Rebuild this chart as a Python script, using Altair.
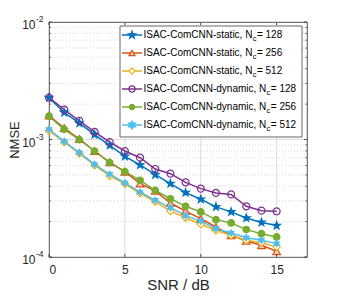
import math
import altair as alt
import pandas as pd

snr = list(range(16))
static_128 = [2.27e-3, 1.70e-3, 1.38e-3, 1.10e-3, 8.92e-4, 7.19e-4, 6.07e-4, 5.02e-4,
              4.21e-4, 3.53e-4, 3.10e-4, 2.67e-4, 2.42e-4, 2.15e-4, 1.97e-4, 1.85e-4]
static_256 = [1.60e-3, 1.25e-3, 1.01e-3, 7.98e-4, 6.39e-4, 5.32e-4, 4.21e-4, 3.65e-4,
              2.88e-4, 2.46e-4, 2.12e-4, 1.80e-4, 1.53e-4, 1.37e-4, 1.26e-4, 1.12e-4]
static_512 = [1.19e-3, 9.50e-4, 7.60e-4, 6.05e-4, 4.90e-4, 4.20e-4, 3.48e-4, 2.95e-4,
              2.46e-4, 2.16e-4, 1.90e-4, 1.68e-4, 1.53e-4, 1.39e-4, 1.32e-4, 1.22e-4]
dynamic_128 = [2.27e-3, 1.80e-3, 1.44e-3, 1.16e-3, 9.50e-4, 7.98e-4, 7.00e-4, 5.61e-4,
               5.12e-4, 4.32e-4, 3.82e-4, 3.51e-4, 3.41e-4, 2.70e-4, 2.48e-4, 2.45e-4]
dynamic_256 = [1.58e-3, 1.22e-3, 9.97e-4, 7.98e-4, 6.35e-4, 5.32e-4, 4.49e-4, 3.69e-4,
               3.13e-4, 2.70e-4, 2.42e-4, 2.08e-4, 1.95e-4, 1.71e-4, 1.58e-4, 1.48e-4]
dynamic_512 = [1.22e-3, 9.64e-4, 7.73e-4, 6.15e-4, 5.06e-4, 4.27e-4, 3.57e-4, 3.04e-4,
               2.63e-4, 2.25e-4, 2.02e-4, 1.74e-4, 1.60e-4, 1.46e-4, 1.39e-4, 1.30e-4]

series_names = ["static128", "static256", "static512", "dynamic128", "dynamic256", "dynamic512"]
series_values = [static_128, static_256, static_512, dynamic_128, dynamic_256, dynamic_512]
legend_prefix = ["ISAC-ComCNN-static, N", "ISAC-ComCNN-static, N", "ISAC-ComCNN-static, N",
                 "ISAC-ComCNN-dynamic, N", "ISAC-ComCNN-dynamic, N", "ISAC-ComCNN-dynamic, N"]
legend_sub = ["c"] * 6
legend_suffix = [" = 128", " = 256", " = 512", " = 128", " = 256", " = 512"]
colors = ["#0072BD", "#D95319", "#EDB120", "#7E2F8E", "#77AC30", "#4DBEEE"]

x_ticks = [0, 5, 10, 15]
decades = [1e-4, 1e-3, 1e-2]
exponents = ["-4", "-3", "-2"]
minor_vals = [m * 10.0 ** e for e in (-4, -3) for m in range(2, 10)]


def star_path(n, r_in):
    pts = []
    for k in range(2 * n):
        r = 1.0 if k % 2 == 0 else r_in
        a = -math.pi / 2 + k * math.pi / n
        pts.append((r * math.cos(a), r * math.sin(a)))
    return "M" + "L".join(f"{x:.3f},{y:.3f}" for x, y in pts) + "Z"


STAR = star_path(5, 0.40)
HEXA = star_path(6, 0.577)
shapes = [STAR, "triangle-up", "diamond", "circle", "circle", HEXA]
fills = [colors[0], "#f3c7b3", "white", "transparent", colors[4], colors[5]]
sizes = [64, 38, 38, 40, 28, 64]

W, H = 258, 235
FONT = "Liberation Sans"
AX = "#262626"

rows = []
for name, vals in zip(series_names, series_values):
    for s, v in zip(snr, vals):
        rows.append({"snr": s, "nmse": v, "series": name})
df = pd.DataFrame(rows)

xscale = alt.Scale(domain=[0, 17], nice=False, zero=False)
yscale = alt.Scale(type="log", domain=[1e-4, 1e-2], nice=False)
col_scale = alt.Scale(domain=series_names, range=colors)

# grid
vgrid = alt.Chart(pd.DataFrame({"snr": x_ticks[1:]})).mark_rule(
    color="#dcdcdc", strokeWidth=1).encode(
    x=alt.X("snr:Q", scale=xscale,
            axis=alt.Axis(values=x_ticks, ticks=False, domain=False, grid=False,
                          labelFontSize=12, labelFont=FONT, labelColor=AX, labelPadding=7,
                          title="SNR / dB", titleFontSize=15, titleFont=FONT,
                          titleFontWeight="normal", titleColor=AX, titlePadding=2)))
hgrid = alt.Chart(pd.DataFrame({"nmse": [1e-3]})).mark_rule(
    color="#dcdcdc", strokeWidth=1).encode(
    y=alt.Y("nmse:Q", scale=yscale,
            axis=alt.Axis(labels=False, ticks=False, domain=False, grid=False,
                          title="NMSE", titleFontSize=13, titleFont=FONT,
                          titleFontWeight="normal", titleColor=AX, titlePadding=28)))
mgrid = alt.Chart(pd.DataFrame({"nmse": minor_vals})).mark_rule(
    color="#c8c8c8", strokeWidth=0.7, strokeDash=[1, 2]).encode(
    y=alt.Y("nmse:Q", scale=yscale))

# inward ticks
xt_bot = alt.Chart(pd.DataFrame({"snr": x_ticks})).mark_rule(color=AX, strokeWidth=0.8).encode(
    x=alt.X("snr:Q", scale=xscale), y=alt.value(H), y2=alt.value(H - 3))
xt_top = alt.Chart(pd.DataFrame({"snr": x_ticks})).mark_rule(color=AX, strokeWidth=0.8).encode(
    x=alt.X("snr:Q", scale=xscale), y=alt.value(0), y2=alt.value(3))
yt_l = alt.Chart(pd.DataFrame({"nmse": decades})).mark_rule(color=AX, strokeWidth=0.8).encode(
    y=alt.Y("nmse:Q", scale=yscale), x=alt.value(0), x2=alt.value(3))
yt_r = alt.Chart(pd.DataFrame({"nmse": decades})).mark_rule(color=AX, strokeWidth=0.8).encode(
    y=alt.Y("nmse:Q", scale=yscale), x=alt.value(W - 3), x2=alt.value(W))
ym_l = alt.Chart(pd.DataFrame({"nmse": minor_vals})).mark_rule(color=AX, strokeWidth=0.6).encode(
    y=alt.Y("nmse:Q", scale=yscale), x=alt.value(0), x2=alt.value(2))
ym_r = alt.Chart(pd.DataFrame({"nmse": minor_vals})).mark_rule(color=AX, strokeWidth=0.6).encode(
    y=alt.Y("nmse:Q", scale=yscale), x=alt.value(W - 2), x2=alt.value(W))

# y tick labels 10^k
ylab_df = pd.DataFrame({"nmse": decades, "exp": exponents})
ylab = alt.Chart(ylab_df).mark_text(align="right", baseline="middle", fontSize=12,
                                     font=FONT, color=AX, dy=3).encode(
    y=alt.Y("nmse:Q", scale=yscale), x=alt.value(-13.5), text=alt.value("10"))
yexp = alt.Chart(ylab_df).mark_text(align="left", baseline="middle", fontSize=8.5,
                                     font=FONT, color=AX, dy=-3).encode(
    y=alt.Y("nmse:Q", scale=yscale), x=alt.value(-13), text="exp:N")

lines = alt.Chart(df).mark_line(strokeWidth=1.5).encode(
    x=alt.X("snr:Q", scale=xscale),
    y=alt.Y("nmse:Q", scale=yscale),
    color=alt.Color("series:N", scale=col_scale, legend=None),
    detail="series:N")

points = alt.Chart(df).mark_point(strokeWidth=1.2, opacity=1, filled=False).encode(
    x=alt.X("snr:Q", scale=xscale),
    y=alt.Y("nmse:Q", scale=yscale),
    stroke=alt.Stroke("series:N", scale=col_scale, legend=None),
    fill=alt.Fill("series:N", scale=alt.Scale(domain=series_names, range=fills), legend=None),
    shape=alt.Shape("series:N", scale=alt.Scale(domain=series_names, range=shapes), legend=None),
    size=alt.Size("series:N", scale=alt.Scale(domain=series_names, range=sizes), legend=None))

# legend (manual, for the N_c subscript)
ARIAL = {'I': 278, 'S': 667, 'A': 667, 'C': 722, '-': 333, 'o': 556, 'm': 833, 'N': 722,
         's': 500, 't': 278, 'a': 556, 'i': 222, 'c': 500, ',': 278, ' ': 278, 'd': 556,
         'y': 500, 'n': 556}


def tw(s, size):
    return sum(ARIAL.get(ch, 556) for ch in s) * size / 1000.0


LFS = 10
SFS = 7.5
LX0, LX1 = 71, 253
LY0, LY1 = 4, 115
box = alt.Chart(pd.DataFrame({"a": [0]})).mark_rect(
    fill="white", stroke=AX, strokeWidth=0.7).encode(
    x=alt.value(LX0), x2=alt.value(LX1), y=alt.value(LY0), y2=alt.value(LY1))
leg_layers = [box]
one = pd.DataFrame({"a": [0]})
for i in range(6):
    py = 13 + 18 * i
    c = colors[i]
    leg_layers.append(alt.Chart(one).mark_rule(color=c, strokeWidth=1.5).encode(
        x=alt.value(73), x2=alt.value(93), y=alt.value(py)))
    leg_layers.append(alt.Chart(one).mark_point(
        shape=shapes[i], size=sizes[i], stroke=c, fill=fills[i], strokeWidth=1.2,
        opacity=1, filled=False).encode(x=alt.value(83), y=alt.value(py)))
    tx = 94.5
    leg_layers.append(alt.Chart(one).mark_text(
        align="left", baseline="middle", fontSize=LFS, font=FONT, color="#000000",
        text=legend_prefix[i]).encode(x=alt.value(tx), y=alt.value(py)))
    sx = tx + tw(legend_prefix[i], LFS) + 0.3
    leg_layers.append(alt.Chart(one).mark_text(
        align="left", baseline="middle", fontSize=SFS, font=FONT, color="#000000",
        text=legend_sub[i]).encode(x=alt.value(sx), y=alt.value(py + 3.5)))
    ux = sx + tw(legend_sub[i], SFS) + 0.5
    leg_layers.append(alt.Chart(one).mark_text(
        align="left", baseline="middle", fontSize=LFS, font=FONT, color="#000000",
        text=legend_suffix[i]).encode(x=alt.value(ux), y=alt.value(py)))

chart = alt.layer(
    vgrid, hgrid, mgrid, lines, points,
    xt_bot, xt_top, yt_l, yt_r, ym_l, ym_r, ylab, yexp,
    *leg_layers
).properties(
    width=W, height=H,
    autosize=alt.AutoSizeParams(type="none"),
    padding={"left": 41, "top": 14, "right": 22, "bottom": 38},
    background="white",
).configure_view(stroke=AX, strokeWidth=0.8)

chart.save("out.html", embed_options={"renderer": "svg", "actions": False})
